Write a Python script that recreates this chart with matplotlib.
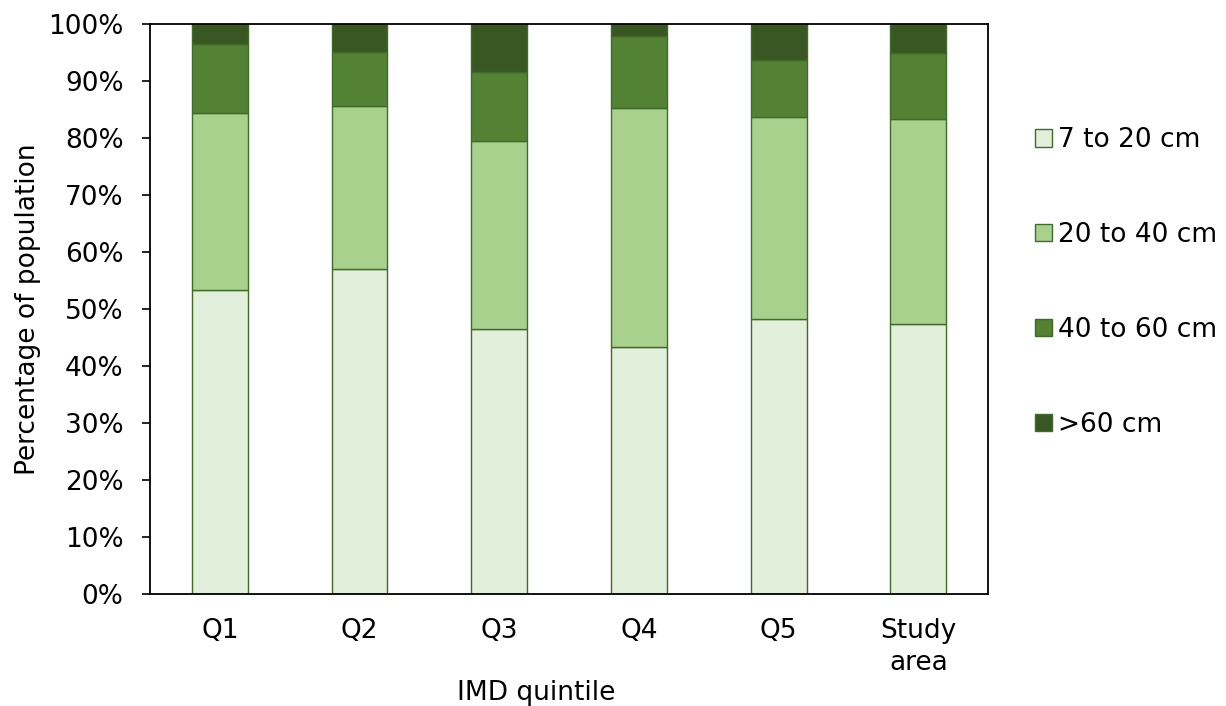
import matplotlib
matplotlib.use("Agg")
import matplotlib.pyplot as plt
from matplotlib.ticker import PercentFormatter
import numpy as np

categories = ["Q1", "Q2", "Q3", "Q4", "Q5", "Study\narea"]
series_names = ["7 to 20 cm", "20 to 40 cm", "40 to 60 cm", ">60 cm"]
depth_7_20 = [53.3, 57.0, 46.5, 43.4, 48.2, 47.3]
depth_20_40 = [31.1, 28.7, 33.0, 41.9, 35.4, 36.1]
depth_40_60 = [12.1, 9.4, 12.1, 12.6, 10.1, 11.5]
depth_over_60 = [3.5, 4.9, 8.4, 2.1, 6.3, 5.1]

colors = ["#E2EFDA", "#A9D18E", "#548235", "#385723"]
edge = "#3F6A28"
fs = 19

plt.rcParams["font.family"] = ["DejaVu Sans"]
fig = plt.figure(figsize=(12.26, 7.06), dpi=100)
ax = fig.add_axes([0.1223, 0.1586, 0.806 - 0.1223, 0.966 - 0.1586])

x = np.arange(len(categories))
bottom = np.zeros(len(categories))
handles = []
for name, vals, c in zip(series_names, [depth_7_20, depth_20_40, depth_40_60, depth_over_60], colors):
    b = ax.bar(x, vals, 0.4, bottom=bottom, color=c, edgecolor=edge, linewidth=1.0, label=name)
    handles.append(b)
    bottom += np.array(vals)

ax.set_xlim(-0.5, len(categories) - 0.5)
ax.set_ylim(0, 100)
ax.set_yticks(np.arange(0, 101, 10))
ax.yaxis.set_major_formatter(PercentFormatter(decimals=0))
ax.set_xticks(x)
ax.set_xticklabels(categories, linespacing=1.3)
ax.tick_params(axis="x", length=0, pad=17, labelsize=fs)
ax.tick_params(axis="y", length=6, width=1.2, direction="out", labelsize=fs, pad=13)
for s in ax.spines.values():
    s.set_linewidth(1.3)
    s.set_color("black")

ax.set_xlabel("IMD quintile", fontsize=fs)
ax.xaxis.label.set_va("baseline")
ax.xaxis.set_label_coords(0.4606, -0.186)
ax.set_ylabel("Percentage of population", fontsize=fs)
ax.yaxis.label.set_va("center")
ax.yaxis.set_label_coords(-0.1456, 0.5)

leg = fig.legend(handles, series_names, loc="center left", bbox_to_anchor=(0.8442, 0.5999),
                 frameon=False, fontsize=fs, handlelength=0.64, handleheight=0.64,
                 handletextpad=0.23, labelspacing=2.61, borderpad=0, borderaxespad=0)

fig.savefig("out.png", dpi=100)
